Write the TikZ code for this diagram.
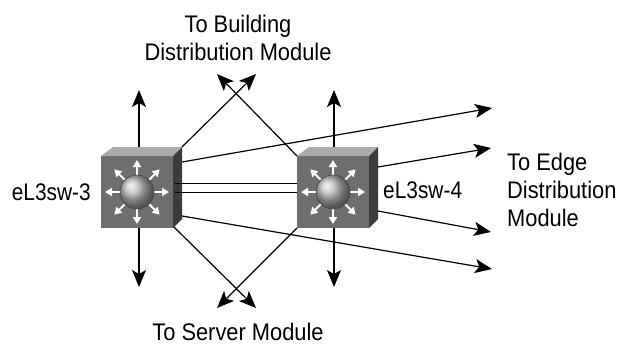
\documentclass[tikz,border=0pt]{standalone}
\usepackage{fontspec}
\setmainfont[FakeStretch=0.91]{Liberation Sans}
\newfontfamily\swfont[FakeStretch=0.87]{Liberation Sans}
\usetikzlibrary{arrows.meta,calc}
\definecolor{facec}{HTML}{6E6E6E}
\definecolor{topc}{HTML}{ABABAB}
\definecolor{sidec}{HTML}{3C3C3C}
\tikzset{
  x=1pt,y=-1pt,
  conn/.style={line width=1.2pt,black},
  tip/.style={conn,-{Stealth[length=17pt,width=14pt,inset=4pt]}},
  dtip/.style={conn,{Stealth[length=17pt,width=14pt,inset=4pt]}-{Stealth[length=17pt,width=14pt,inset=4pt]}},
  lbl/.style={font=\fontsize{24pt}{28pt}\selectfont,inner sep=0pt,align=center},
  wa/.style={white,line width=2pt,-{Stealth[length=7pt,width=8pt,inset=0pt]}},
  swbox/.style={minimum width=72pt,minimum height=72pt,inner sep=0pt,fill=facec,draw=none},
}
\newcommand{\swicon}[2]{%
  \begin{scope}[shift={(#1,#2)}]
    \fill[topc] (-36,-36) -- (-24,-45) -- (45,-45) -- (36,-36) -- cycle;
    \fill[sidec] (36,-36) -- (45,-45) -- (45,27) -- (36,36) -- cycle;
    \foreach \a in {0,45,...,315}{
      \draw[wa] (\a:17) -- (\a:32);
    }
    \shade[ball color=gray!55] (0,0) circle (17);
    \draw[black!75,line width=0.5pt] (0,0) circle (17);
  \end{scope}}
\begin{document}
\begin{tikzpicture}
\useasboundingbox (0,0) rectangle (620,345);
\coordinate (a1top) at (139,90);
\coordinate (a1bot) at (139,287);
\coordinate (a2top) at (334,90);
\coordinate (a2bot) at (334,287);
\coordinate (c1) at (492,108);
\coordinate (c2) at (491,148);
\coordinate (c3) at (491,232);
\coordinate (c4) at (492,269);
\coordinate (s1) at (182,162);
\coordinate (s2) at (378,167);
\coordinate (s3) at (378,211);
\coordinate (s4) at (182,216);
\coordinate (b1) at (182,147);
\coordinate (b2) at (297,156);
\coordinate (b3) at (173,226);
\coordinate (b4) at (297,228);
\coordinate (u1) at (256,74);
\coordinate (u2) at (217,74);
\coordinate (d1) at (256,308);
\coordinate (d2) at (217,308);
\coordinate (h1) at (175,183);
\coordinate (h2) at (297,183);
\coordinate (h3) at (175,192);
\coordinate (h4) at (297,192);
\draw[dtip] (a1top) -- (a1bot);
\draw[dtip] (a2top) -- (a2bot);
\draw[tip] (s1) -- (c1);
\draw[tip] (s2) -- (c2);
\draw[tip] (s3) -- (c3);
\draw[tip] (s4) -- (c4);
\draw[tip] (b1) -- (u1);
\draw[tip] (b2) -- (u2);
\draw[tip] (b3) -- (d1);
\draw[tip] (b4) -- (d2);
\node[swbox] (sw3) at (137,192) {};
\node[swbox] (sw4) at (333,192) {};
\swicon{137}{192}
\swicon{333}{192}
\draw[conn,line width=1pt] (h1) -- (h2);
\draw[conn,line width=1pt] (h3) -- (h4);
\node[lbl] (t1) at (238,38) {To Building\\Distribution Module};
\node[lbl] (t2) at (238,332) {To Server Module};
\node[lbl,align=left,anchor=west] (t3) at (507,190) {To Edge\\Distribution\\Module};
\node[lbl,anchor=east,font=\fontsize{24pt}{28pt}\swfont] (t4) at (91,192) {eL3sw-3};
\node[lbl,anchor=west,font=\fontsize{24pt}{28pt}\swfont] (t5) at (383,190) {eL3sw-4};
\end{tikzpicture}
\end{document}
